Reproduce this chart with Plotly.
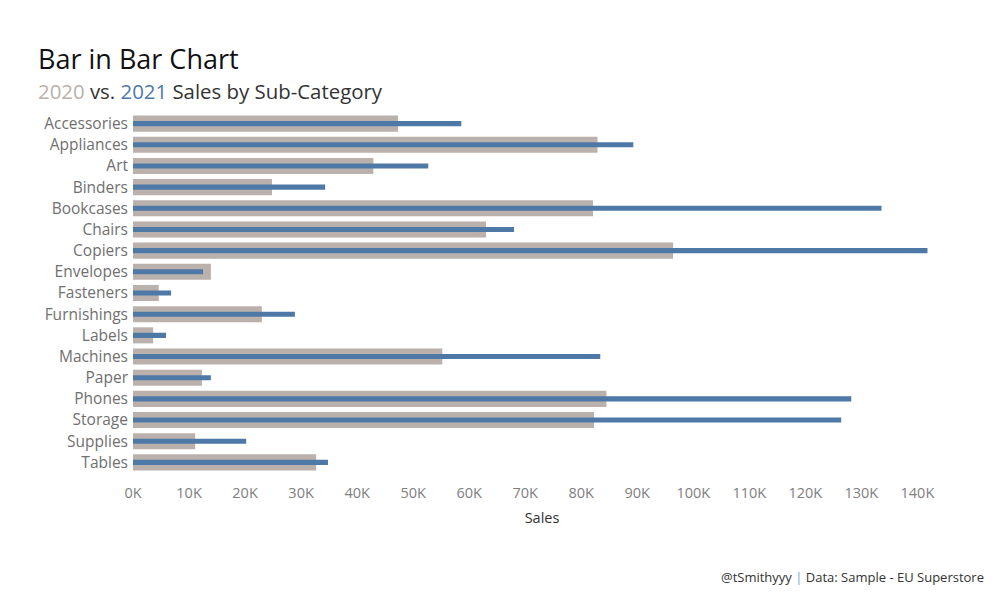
import plotly.graph_objects as go

categories = ["Accessories", "Appliances", "Art", "Binders", "Bookcases", "Chairs",
              "Copiers", "Envelopes", "Fasteners", "Furnishings", "Labels", "Machines",
              "Paper", "Phones", "Storage", "Supplies", "Tables"]
sales_2020 = [47300, 82900, 42900, 24800, 82100, 63000, 96400, 13900, 4600, 23000,
              3600, 55200, 12300, 84500, 82300, 11100, 32700]
sales_2021 = [58600, 89300, 52700, 34300, 133600, 68000, 141800, 12500, 6800, 28900,
              5900, 83400, 13900, 128200, 126400, 20200, 34800]
tick_vals = list(range(0, 150000, 10000))
tick_text = [f"{v // 1000}K" for v in tick_vals]

GRAY = "#bab0ac"
BLUE = "#4e79a7"
FONT = "Open Sans"

W, H = 1000, 600
ml, mr, mt, mb = 133, 49, 113, 127

fig = go.Figure()
fig.add_trace(go.Bar(y=categories, x=sales_2020, orientation="h", name="2020",
                     marker=dict(color=GRAY, line=dict(width=0)), width=0.76,
                     hovertemplate="%{y}<br>2020: %{x:,.0f}<extra></extra>"))
fig.add_trace(go.Bar(y=categories, x=sales_2021, orientation="h", name="2021",
                     marker=dict(color=BLUE, line=dict(width=0)), width=0.24,
                     hovertemplate="%{y}<br>2021: %{x:,.0f}<extra></extra>"))

fig.update_layout(
    width=W, height=H,
    barmode="overlay",
    showlegend=False,
    plot_bgcolor="white", paper_bgcolor="white",
    margin=dict(l=ml, r=mr, t=mt, b=mb),
    font=dict(family=FONT, color="#666666", size=14),
    xaxis=dict(range=[0, 146000], tickvals=tick_vals, ticktext=tick_text,
               showgrid=False, zeroline=False, showline=False, ticks="",
               ticklabelstandoff=9,
               tickfont=dict(size=14.5, color="#808080"),
               title=dict(text="Sales", font=dict(size=14.5, color="#333333"), standoff=12)),
    yaxis=dict(categoryorder="array", categoryarray=categories, autorange="reversed",
               showgrid=False, zeroline=False, showline=False, ticks="",
               ticklabelstandoff=4,
               tickfont=dict(size=15.5, color="#707070")),
)

def px_ann(text, x, y, size, color, xanchor="left"):
    fig.add_annotation(text=text, xref="paper", yref="paper",
                       x=(x - ml) / (W - ml - mr), y=1 - (y - mt) / (H - mt - mb),
                       showarrow=False, xanchor=xanchor, yanchor="middle",
                       font=dict(size=size, color=color, family=FONT))

px_ann("Bar in Bar Chart", 36, 58, 27, "#111111")
px_ann(f"<span style='color:{GRAY}'>2020</span> vs. "
       f"<span style='color:{BLUE}'>2021</span> Sales by Sub-Category",
       36, 91, 20.4, "#333333")
px_ann("@tSmithyyy <span style='color:#7ba7d9'>|</span> Data: Sample - EU Superstore",
       986, 577, 13, "#333333", xanchor="right")

fig.write_html("out.html")
